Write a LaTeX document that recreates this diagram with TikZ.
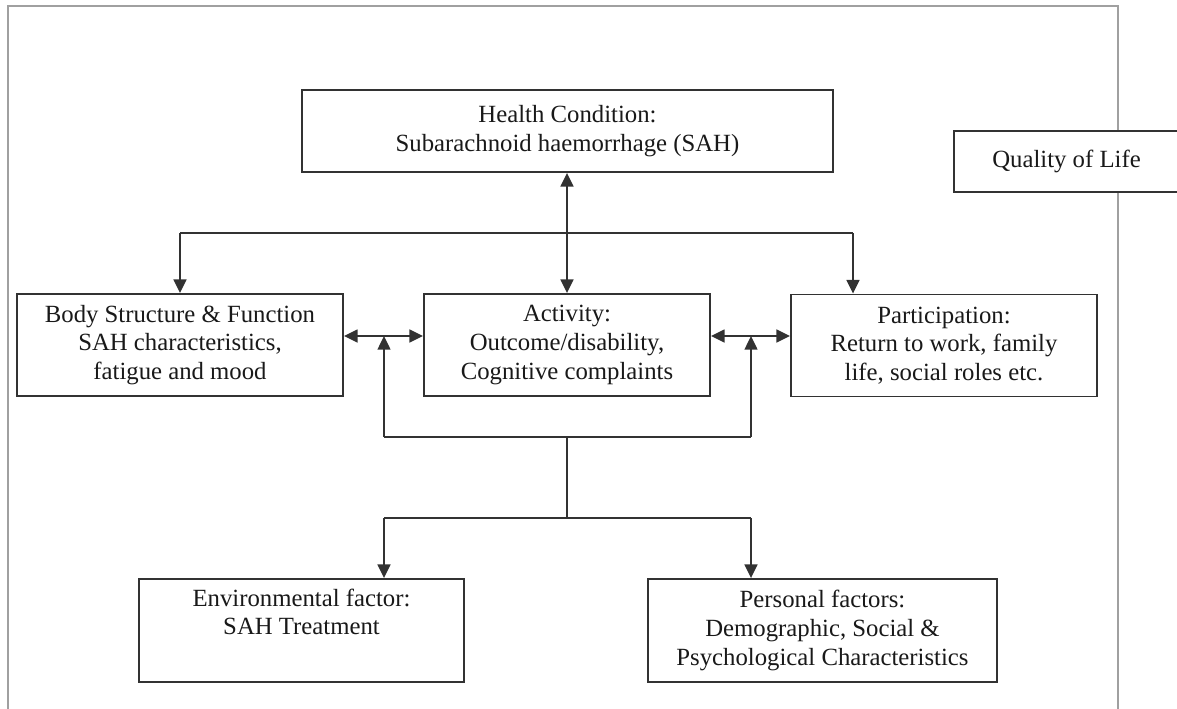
\documentclass[tikz,border=0pt]{standalone}
\usepackage{fontspec}
\setmainfont{Liberation Serif}
\usetikzlibrary{arrows.meta}
\definecolor{framegray}{RGB}{160,160,160}
\definecolor{linegray}{RGB}{50,50,50}
\definecolor{txtgray}{RGB}{25,25,25}
\tikzset{
    lab/.style={
        font=\fontsize{17.6}{20.4}\selectfont
    }
}

\begin{document}
\begin{tikzpicture}[x=0.025cm,y=-0.025cm, line cap=butt, line join=miter]

\tikzset{
  main/.style={draw=linegray, line width=1.3pt},
  arr/.style={main, -{Triangle[length=3.4mm,width=3.2mm]}},
  darr/.style={main, {Triangle[length=3.4mm,width=3.2mm]}-{Triangle[length=3.4mm,width=3.2mm]}},
  box/.style={rectangle, draw=linegray, line width=1.3pt, fill=white, lab, text=txtgray,
    align=center, inner sep=0pt, minimum height=2.55cm},
}

\clip (0,0) rectangle (1177,709);

% outer frame
\draw[framegray, line width=1.4pt] (8,709) -- (8,6) -- (1118,6) -- (1118,709);

% boxes
\node[box, minimum width=13.275cm, minimum height=2.05cm] (health) at (567.5,131)
  {Health Condition:\\Subarachnoid haemorrhage (SAH)};
\node[box, minimum width=5.625cm, minimum height=1.525cm] (qol) at (1066.5,161.5)
  {Quality of Life};
\node[box, minimum width=8.15cm] (body) at (180,345)
  {Body Structure \& Function\\SAH characteristics,\\fatigue and mood};
\node[box, minimum width=7.15cm] (act) at (567,345)
  {Activity:\\Outcome/disability,\\Cognitive complaints};
\node[box, minimum width=7.65cm] (part) at (944,345.5)
  {Participation:\\Return to work, family\\life, social roles etc.};
\node[box, minimum width=8.125cm, minimum height=2.575cm] (env) at (301.5,630.5)
  {Environmental factor:\\SAH Treatment\\\strut};
\node[box, minimum width=8.725cm, minimum height=2.575cm] (pers) at (822.5,630.5)
  {Personal factors:\\Demographic, Social \&\\Psychological Characteristics};

% branch points
\coordinate (tl) at (180,233);
\coordinate (tr) at (853,233);
\coordinate (ml) at (384,336);
\coordinate (mr) at (751,336);
\coordinate (bl) at (384,437);
\coordinate (bc) at (567,437);
\coordinate (br) at (751,437);
\coordinate (dl) at (384,518);
\coordinate (dc) at (567,518);
\coordinate (dr) at (751,518);

% health condition to the middle row
\draw[darr] (act.north) -- (act.north |- health.south);
\draw[main] (tl) -- (tr);
\draw[arr] (tl) -- (body.north);
\draw[arr] (tr) -- (tr |- part.north);

% middle row
\draw[darr] (body.east |- ml) -- (act.west |- ml);
\draw[darr] (act.east |- mr) -- (part.west |- mr);
\draw[arr] (bl) -- (ml);
\draw[arr] (br) -- (mr);
\draw[main] (bl) -- (br);

% contextual factors
\draw[main] (bc) -- (dc);
\draw[main] (dl) -- (dr);
\draw[arr] (dl) -- (dl |- env.north);
\draw[arr] (dr) -- (dr |- pers.north);

\end{tikzpicture}
\end{document}
